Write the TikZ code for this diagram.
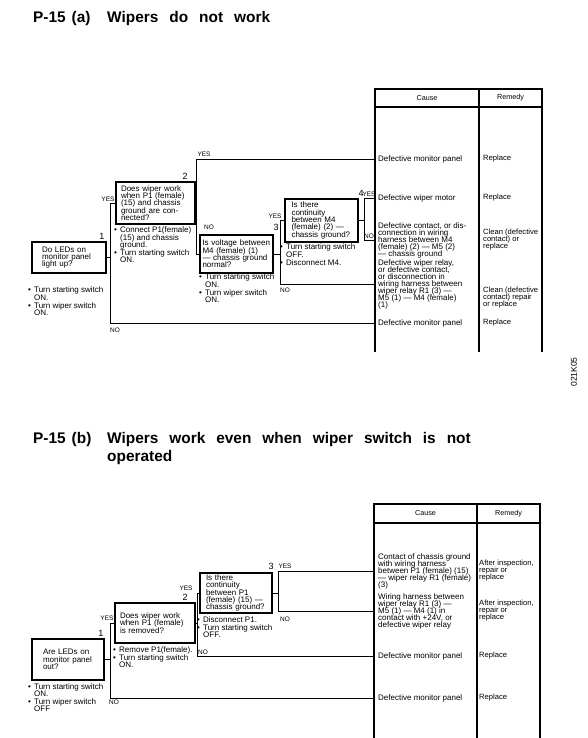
\documentclass[tikz,border=0pt]{standalone}
\usepackage{fontspec}
\setmainfont{Liberation Sans}
\usepackage{xcolor}
\usepackage{tikz}
\usetikzlibrary{positioning, calc}
\newcommand{\bul}{\makebox[6pt][l]{\textbullet}}
\newcommand{\hng}{\hspace*{6pt}}
\newcommand{\smalltext}[2]{\fontsize{#1}{#2}\selectfont\lineskiplimit=-9pt\relax}

\begin{document}
\begin{tikzpicture}[
    x=1pt, y=-1pt,
    qbox/.style={rectangle, draw, line width=1.3pt, align=left, inner ysep=0pt, font=\smalltext{8}{7.3}},
    note/.style={anchor=north west, align=left, inner sep=0pt, font=\smalltext{8}{7.3}},
    cause/.style={anchor=west, align=left, inner sep=0pt, font=\smalltext{8}{7}},
    remedy/.style={anchor=west, align=left, inner sep=0pt, font=\smalltext{7.6}{7}},
    head/.style={inner sep=0pt, font=\smalltext{7.2}{7.2}},
    num/.style={inner sep=0pt, font=\smalltext{9}{9}},
    yn/.style={inner sep=0pt, font=\smalltext{6.5}{6.5}},
    title/.style={align=left, inner sep=0pt, font={\fontsize{15.4}{17.5}\selectfont\bfseries\spaceskip=11pt\relax}},
    wire/.style={line width=0.9pt},
    frame/.style={line width=1.1pt}
]
\useasboundingbox (0,0) rectangle (588,738);

% P-15 (a)
\node[title, anchor=base west] (ta) at (33,22.6) {\makebox[74pt][l]{P-15\hspace{6pt}(a)}Wipers do not work};

\coordinate (tla) at (375,89);
\draw[frame] (375,352) |- (542,89) -- (542,352);
\draw[frame] (375,107) -- (542,107);
\draw[frame] (479,89) -- (479,352);
\node[head] (hca) at (427,98) {Cause};
\node[head] (hra) at (510.5,98) {Remedy};

\node[cause] (c1) at (378,159) {Defective monitor panel};
\node[cause] (c2) at (378,198) {Defective wiper motor};
\node[cause] (c3) at (378,240) {Defective contact, or dis-\\connection in wiring\\harness between M4\\(female) (2) — M5 (2)\\— chassis ground};
\node[cause] (c4) at (378,284) {Defective wiper relay,\\or defective contact,\\or disconnection in\\wiring harness between\\wiper relay R1 (3) —\\M5 (1) — M4 (female)\\(1)};
\node[cause] (c5) at (378,323) {Defective monitor panel};
\node[remedy] (r1) at (483,159) {Replace};
\node[remedy] (r2) at (483,198) {Replace};
\node[remedy] (r3) at (483,240) {Clean (defective\\contact) or\\replace};
\node[remedy] (r4) at (483,297.5) {Clean (defective\\contact) repair\\or replace};
\node[remedy] (r5) at (483,323) {Replace};

\node[qbox, text width=54pt, inner xsep=10pt, minimum height=31pt] (q1) at (69,257.5) {Do LEDs on\\monitor panel\\light up?};
\node[qbox, text width=69pt, inner xsep=5pt, minimum height=42pt] (q2) at (155.5,203) {Does wiper work\\when P1 (female)\\(15) and chassis\\ground are con-\\nected?};
\node[qbox, text width=68pt, inner xsep=2.5pt, minimum height=38pt] (q3) at (236.5,254) {Is voltage between\\M4 (female) (1)\\— chassis ground\\normal?};
\node[qbox, text width=60pt, inner xsep=6.5pt, minimum height=43pt] (q4) at (321.5,220.5) {Is there\\continuity\\between M4\\(female) (2) —\\chassis ground?};

\node[num] (k1) at (102,236) {1};
\node[num] (k2) at (185,176) {2};
\node[num] (k3) at (276,227) {3};
\node[num] (k4) at (361,193) {4};

\node[note] (n1) at (28,287) {\bul Turn starting switch\\\hng ON.\\[0.8pt]\bul Turn wiper switch\\\hng ON.};
\node[note] (n2) at (114,227) {\bul Connect P1(female)\\\hng (15) and chassis\\\hng ground.\\[0.8pt]\bul Turn starting switch\\\hng ON.};
\node[note] (n3) at (199,274) {\bul Turn starting switch\\\hng ON.\\[0.8pt]\bul Turn wiper switch\\\hng ON.};
\node[note] (n4) at (280,244) {\bul Turn starting switch\\\hng OFF.\\[0.8pt]\bul Disconnect M4.};

\coordinate (f1) at (110,0);
\coordinate (f2) at (196,0);
\coordinate (f3) at (280,0);
\coordinate (f4) at (364,0);

\draw[wire] (q1.east) -- (q1.east -| f1);
\draw[wire] (q2.west) -| (f1 |- c5.west) -- (tla |- c5.west);
\draw[wire] (q2.east) -- (q2.east -| f2);
\draw[wire] (tla |- c1.west) -| (f2 |- q3.west) -- (q3.west);
\draw[wire] (q3.east) -- (q3.east -| f3);
\draw[wire] (q4.west) -| (f3 |- c4.west) -- (tla |- c4.west);
\draw[wire] (q4.east) -- (q4.east -| f4);
\draw[wire] (tla |- c2.west) -| (f4 |- c3.west) -- (tla |- c3.west);

\node[yn] (ya1) at (108,199) {YES};
\node[yn] (na1) at (115,330) {NO};
\node[yn] (ya2) at (204,154) {YES};
\node[yn] (na2) at (209,227) {NO};
\node[yn] (ya3) at (275,216) {YES};
\node[yn] (na3) at (285,290) {NO};
\node[yn] (ya4) at (369,194) {YES};
\node[yn] (na4) at (369,236) {NO};

\node[inner sep=0pt, rotate=90, font=\smalltext{8.5}{8.5}] (code) at (574,372) {021K05};

% P-15 (b)
\node[title, anchor=north west] (tb) at (33,432.2) {\makebox[74pt][l]{P-15\hspace{6pt}(b)}Wipers work even when wiper switch is not\\\hspace*{74pt}operated};

\coordinate (tlb) at (374,504);
\draw[frame] (374,738) |- (540,504) -- (540,738);
\draw[frame] (374,523) -- (540,523);
\draw[frame] (477,504) -- (477,738);
\node[head] (hcb) at (425.5,513.5) {Cause};
\node[head] (hrb) at (508.5,513.5) {Remedy};

\node[cause] (d1) at (378,571) {Contact of chassis ground\\with wiring harness\\between P1 (female) (15)\\— wiper relay R1 (female)\\(3)};
\node[cause] (d2) at (378,611) {Wiring harness between\\wiper relay R1 (3) —\\M5 (1) — M4 (1) in\\contact with +24V, or\\defective wiper relay};
\node[cause] (d3) at (378,656) {Defective monitor panel};
\node[cause] (d4) at (378,698) {Defective monitor panel};
\node[remedy] (s1) at (479,571) {After inspection,\\repair or\\replace};
\node[remedy] (s2) at (479,611) {After inspection,\\repair or\\replace};
\node[remedy] (s3) at (479,656) {Replace};
\node[remedy] (s4) at (479,698) {Replace};

\node[qbox, text width=50pt, inner xsep=11pt, minimum height=41pt] (p1) at (68,659.5) {Are LEDs on\\monitor panel\\out?};
\node[qbox, text width=70pt, inner xsep=5pt, minimum height=40pt] (p2) at (155,623) {Does wiper work\\when P1 (female)\\is removed?};
\node[qbox, text width=60pt, inner xsep=6pt, minimum height=40pt] (p3) at (236,593) {Is there\\continuity\\between P1\\(female) (15) —\\chassis ground?};

\node[num] (j1) at (101,633) {1};
\node[num] (j2) at (185,597) {2};
\node[num] (j3) at (271,566) {3};

\node[note] (m1) at (28,683) {\bul Turn starting switch\\\hng ON.\\[0.8pt]\bul Turn wiper switch\\\hng OFF};
\node[note] (m2) at (113,646) {\bul Remove P1(female).\\[0.8pt]\bul Turn starting switch\\\hng ON.};
\node[note] (m3) at (197,616) {\bul Disconnect P1.\\[0.8pt]\bul Turn starting switch\\\hng OFF.};

\coordinate (g1) at (110,0);
\coordinate (g2) at (197,0);
\coordinate (g3) at (278,0);

\draw[wire] (p1.east) -- (p1.east -| g1);
\draw[wire] (p2.west) -| (g1 |- d4.west) -- (tlb |- d4.west);
\draw[wire] (p2.east) -- (p2.east -| g2);
\draw[wire] (p3.west) -| (g2 |- d3.west) -- (tlb |- d3.west);
\draw[wire] (p3.east) -- (p3.east -| g3);
\draw[wire] (tlb |- d1.west) -| (g3 |- d2.west) -- (tlb |- d2.west);

\node[yn] (yb1) at (107,618) {YES};
\node[yn] (nb1) at (114,702) {NO};
\node[yn] (yb2) at (186,588) {YES};
\node[yn] (nb2) at (203,652) {NO};
\node[yn] (yb3) at (285,566) {YES};
\node[yn] (nb3) at (285,619) {NO};
\end{tikzpicture}
\end{document}
